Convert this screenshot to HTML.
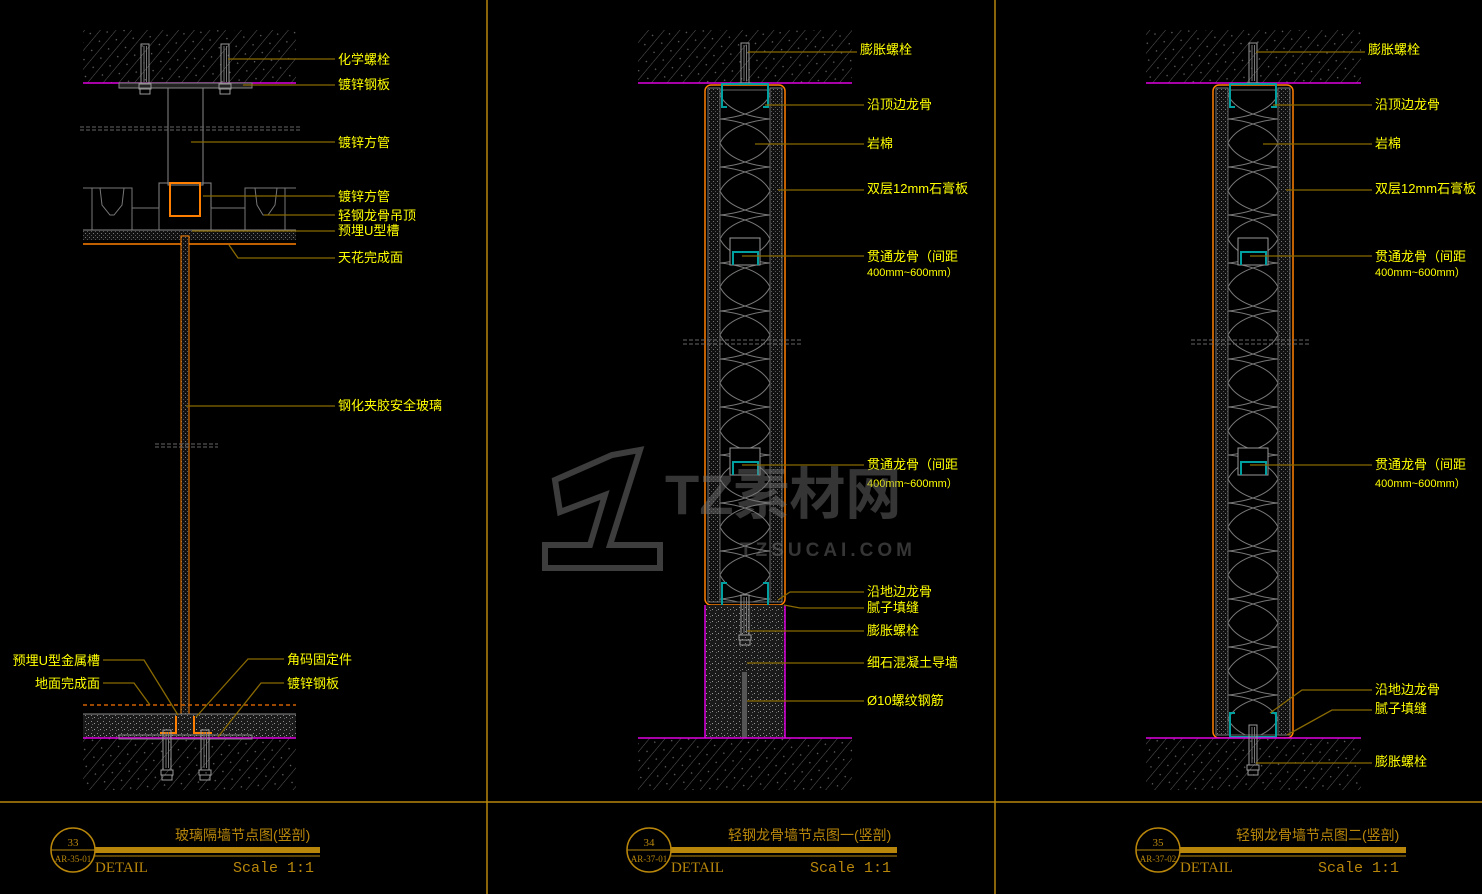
<!DOCTYPE html>
<html><head><meta charset="utf-8"><style>
html,body{margin:0;padding:0;background:#000;}
svg{display:block;}
text{font-family:"Liberation Sans","Noto Sans CJK SC",sans-serif;}
.l{fill:#ffff00;font-size:13px;}
.ld{stroke:#8a6a00;stroke-width:1.3;fill:none;}
.tt{fill:#b8860b;}
</style></head><body>
<svg width="1482" height="894" viewBox="0 0 1482 894" xmlns="http://www.w3.org/2000/svg">
<defs>
<pattern id="hatch" width="12" height="12" patternUnits="userSpaceOnUse" patternTransform="rotate(40)">
<rect width="12" height="12" fill="#000"/>
<line x1="0" y1="0" x2="0" y2="12" stroke="#5a5a5a" stroke-width="1"/>
<rect x="6" y="3" width="1.3" height="1.3" fill="#666"/>
</pattern>
<pattern id="dots" width="4" height="4" patternUnits="userSpaceOnUse">
<rect width="4" height="4" fill="#111"/><rect x="1" y="1" width="1" height="1" fill="#777"/><rect x="3" y="3" width="1" height="1" fill="#555"/>
</pattern>
<pattern id="conc" width="6" height="6" patternUnits="userSpaceOnUse">
<rect width="6" height="6" fill="#1a1a1a"/><rect x="1" y="1" width="1" height="1" fill="#888"/><rect x="4" y="3" width="1" height="1" fill="#999"/><rect x="2" y="4" width="1" height="1" fill="#666"/>
</pattern>
<pattern id="wool" width="50" height="48" patternUnits="userSpaceOnUse" x="720" y="95">
<path d="M0 0 Q10 20 50 24 Q10 28 0 48 M50 0 Q40 20 0 24 Q40 28 50 48" stroke="#777" stroke-width="1" fill="none"/>
</pattern>
<pattern id="wool2" width="50" height="48" patternUnits="userSpaceOnUse" x="1228" y="95">
<path d="M0 0 Q10 20 50 24 Q10 28 0 48 M50 0 Q40 20 0 24 Q40 28 50 48" stroke="#777" stroke-width="1" fill="none"/>
</pattern>
<g id="bolt">
<rect x="-4" y="0" width="8" height="40" fill="none" stroke="#999"/>
<line x1="-1" y1="2" x2="-1" y2="38" stroke="#777"/><line x1="1.5" y1="2" x2="1.5" y2="38" stroke="#777"/>
<rect x="-6" y="40" width="12" height="5" fill="none" stroke="#999"/><rect x="-5" y="45" width="10" height="5" fill="none" stroke="#999"/>
</g>
</defs>
<rect width="1482" height="894" fill="#000"/>

<line x1="487" y1="0" x2="487" y2="894" stroke="#b8860b" stroke-width="1.5"/>
<line x1="995" y1="0" x2="995" y2="894" stroke="#b8860b" stroke-width="1.5"/>
<line x1="0" y1="802" x2="1482" y2="802" stroke="#b8860b" stroke-width="1.5"/>

<!-- ===== PANEL 1 ===== -->
<rect x="83" y="30" width="213" height="53" fill="url(#hatch)"/>
<line x1="83" y1="83" x2="296" y2="83" stroke="#e000e0" stroke-width="1.5"/>
<rect x="119" y="83" width="133" height="5" fill="#222" stroke="#888"/>
<use href="#bolt" x="145" y="44"/><use href="#bolt" x="225" y="44"/>
<rect x="168" y="88" width="35" height="97" fill="none" stroke="#888"/>
<line x1="80" y1="127" x2="300" y2="127" stroke="#666" stroke-dasharray="4,2"/>
<line x1="80" y1="130" x2="300" y2="130" stroke="#666" stroke-dasharray="4,2"/>
<rect x="159" y="183" width="52" height="55" fill="none" stroke="#888"/>
<rect x="170" y="183" width="30" height="33" fill="none" stroke="#ff8000" stroke-width="2"/>
<path d="M83 188 L92 188 L92 233 M132 233 L132 188 L92 188 M100 188 L102 205 L110 215 L114 215 L122 205 L124 188" fill="none" stroke="#777"/>
<path d="M296 188 L285 188 L285 233 M245 233 L245 188 L285 188 M255 188 L257 205 L263 215 L268 215 L275 205 L277 188" fill="none" stroke="#777"/>
<rect x="132" y="208" width="27" height="22" fill="none" stroke="#777"/><rect x="211" y="208" width="34" height="22" fill="none" stroke="#777"/>
<rect x="83" y="230" width="213" height="10" fill="url(#dots)"/>
<line x1="83" y1="230" x2="296" y2="230" stroke="#888"/>
<line x1="83" y1="244" x2="296" y2="244" stroke="#ff8000" stroke-width="1.5"/>
<rect x="181" y="236" width="8" height="478" fill="url(#dots)" stroke="#ff8000" stroke-width="1"/>
<line x1="155" y1="444" x2="218" y2="444" stroke="#666" stroke-dasharray="4,2"/>
<line x1="155" y1="447" x2="218" y2="447" stroke="#666" stroke-dasharray="4,2"/>
<line x1="83" y1="705" x2="296" y2="705" stroke="#d06000" stroke-dasharray="4,3" stroke-width="1.5"/>
<rect x="83" y="714" width="213" height="24" fill="url(#conc)"/>
<line x1="83" y1="714" x2="296" y2="714" stroke="#888"/>
<rect x="83" y="738" width="213" height="52" fill="url(#hatch)"/>
<line x1="83" y1="738" x2="296" y2="738" stroke="#e000e0" stroke-width="1.5"/>
<rect x="119" y="735" width="133" height="4" fill="none" stroke="#888"/>
<path d="M160 733 L176 733 L176 716 M194 716 L194 733 L212 733" stroke="#ff8000" stroke-width="2" fill="none"/>
<use href="#bolt" x="167" y="730"/>
<use href="#bolt" x="205" y="730"/>

<g class="ld">
<polyline points="228,59 335,59"/><polyline points="243,85 335,85"/><polyline points="191,142 335,142"/>
<polyline points="203,196 335,196"/><polyline points="264,215 335,215"/><polyline points="192,231 335,231"/>
<polyline points="229,245 238,258 335,258"/><polyline points="186,406 335,406"/>
<polyline points="103,660 144,660 178,715"/><polyline points="103,683 134,683 150,705"/>
<polyline points="284,659 248,659 196,717"/><polyline points="284,683 261,683 218,737"/>
</g>
<text class="l" x="338" y="64">化学螺栓</text>
<text class="l" x="338" y="89">镀锌钢板</text>
<text class="l" x="338" y="147">镀锌方管</text>
<text class="l" x="338" y="201">镀锌方管</text>
<text class="l" x="338" y="220">轻钢龙骨吊顶</text>
<text class="l" x="338" y="235">预埋U型槽</text>
<text class="l" x="338" y="262">天花完成面</text>
<text class="l" x="338" y="410">钢化夹胶安全玻璃</text>
<text class="l" x="100" y="665" text-anchor="end">预埋U型金属槽</text>
<text class="l" x="100" y="688" text-anchor="end">地面完成面</text>
<text class="l" x="287" y="664">角码固定件</text>
<text class="l" x="287" y="688">镀锌钢板</text>

<!-- ===== PANEL 2 ===== -->
<rect x="638" y="30" width="214" height="53" fill="url(#hatch)"/>
<line x1="638" y1="83" x2="852" y2="83" stroke="#e000e0" stroke-width="1.5"/>
<use href="#bolt" x="745" y="43"/>
<rect x="705" y="85" width="80" height="520" rx="6" fill="#000" stroke="#ff8000" stroke-width="1.5"/>
<rect x="708" y="88" width="12" height="514" fill="url(#dots)" stroke="#777"/>
<rect x="770" y="88" width="12" height="514" fill="url(#dots)" stroke="#777"/>
<rect x="720" y="90" width="50" height="512" fill="url(#wool)" stroke="#666"/>
<path d="M727 107 L722 107 L722 84 L768 84 L768 107 L763 107" stroke="#00a0a0" stroke-width="2" fill="none"/>
<path d="M727 583 L722 583 L722 606 L768 606 L768 583 L763 583" stroke="#00a0a0" stroke-width="2" fill="none"/>
<rect x="730" y="238" width="30" height="27" fill="#000" stroke="#999"/><path d="M733 265 L733 252 L758 252 L758 265" stroke="#00a0a0" stroke-width="2" fill="none"/>
<rect x="730" y="448" width="30" height="27" fill="#000" stroke="#999"/><path d="M733 475 L733 462 L758 462 L758 475" stroke="#00a0a0" stroke-width="2" fill="none"/>
<line x1="683" y1="340" x2="803" y2="340" stroke="#666" stroke-dasharray="4,2"/><line x1="683" y1="344" x2="803" y2="344" stroke="#666" stroke-dasharray="4,2"/>
<rect x="705" y="605" width="80" height="133" fill="url(#conc)"/>
<line x1="705" y1="605" x2="705" y2="738" stroke="#e000e0" stroke-width="1.5"/>
<line x1="785" y1="605" x2="785" y2="738" stroke="#e000e0" stroke-width="1.5"/>
<use href="#bolt" x="745" y="595"/>
<rect x="742" y="672" width="5" height="100" fill="#555"/>
<rect x="638" y="738" width="214" height="52" fill="url(#hatch)"/>
<line x1="638" y1="738" x2="852" y2="738" stroke="#e000e0" stroke-width="1.5"/>
<g class="ld">
<polyline points="748,52 857,52"/><polyline points="765,105 864,105"/><polyline points="755,144 864,144"/>
<polyline points="778,190 864,190"/><polyline points="742,256 864,256"/><polyline points="742,465 864,465"/>
<polyline points="778,600 790,592 864,592"/><polyline points="784,605 800,608 864,608"/>
<polyline points="747,631 864,631"/><polyline points="747,663 864,663"/><polyline points="747,701 864,701"/>
</g>
<text class="l" x="860" y="54">膨胀螺栓</text>
<text class="l" x="867" y="109">沿顶边龙骨</text>
<text class="l" x="867" y="148">岩棉</text>
<text class="l" x="867" y="193">双层12mm石膏板</text>
<text class="l" x="867" y="261">贯通龙骨（间距</text>
<text class="l" x="867" y="276" style="font-size:11px">400mm~600mm）</text>
<text class="l" x="867" y="469">贯通龙骨（间距</text>
<text class="l" x="867" y="487" style="font-size:11px">400mm~600mm）</text>
<text class="l" x="867" y="596">沿地边龙骨</text>
<text class="l" x="867" y="612">腻子填缝</text>
<text class="l" x="867" y="635">膨胀螺栓</text>
<text class="l" x="867" y="667">细石混凝土导墙</text>
<text class="l" x="867" y="705">Ø10螺纹钢筋</text>

<g opacity="0.45">
<path d="M555 480 L612 455 L640 450 L610 545 L660 545 L660 568 L545 568 L545 545 L590 545 L605 495 L560 512 Z" fill="none" stroke="#888" stroke-width="6"/>
<text x="665" y="514" style="font-size:56px;font-weight:bold" fill="#777">TZ素材网</text>
<text x="740" y="556" style="font-size:19px;font-weight:bold;letter-spacing:4px" fill="#777">TZSUCAI.COM</text>
</g>

<!-- ===== PANEL 3 ===== -->
<rect x="1146" y="30" width="215" height="53" fill="url(#hatch)"/>
<line x1="1146" y1="83" x2="1361" y2="83" stroke="#e000e0" stroke-width="1.5"/>
<use href="#bolt" x="1253" y="43"/>
<rect x="1213" y="85" width="80" height="653" rx="6" fill="#000" stroke="#ff8000" stroke-width="1.5"/>
<rect x="1216" y="88" width="12" height="647" fill="url(#dots)" stroke="#777"/>
<rect x="1278" y="88" width="12" height="647" fill="url(#dots)" stroke="#777"/>
<rect x="1228" y="90" width="50" height="645" fill="url(#wool2)" stroke="#666"/>
<path d="M1235 107 L1230 107 L1230 84 L1276 84 L1276 107 L1271 107" stroke="#00a0a0" stroke-width="2" fill="none"/>
<path d="M1235 713 L1230 713 L1230 737 L1276 737 L1276 713 L1271 713" stroke="#00a0a0" stroke-width="2" fill="none"/>
<rect x="1238" y="238" width="30" height="27" fill="#000" stroke="#999"/><path d="M1241 265 L1241 252 L1266 252 L1266 265" stroke="#00a0a0" stroke-width="2" fill="none"/>
<rect x="1238" y="448" width="30" height="27" fill="#000" stroke="#999"/><path d="M1241 475 L1241 462 L1266 462 L1266 475" stroke="#00a0a0" stroke-width="2" fill="none"/>
<line x1="1191" y1="340" x2="1311" y2="340" stroke="#666" stroke-dasharray="4,2"/><line x1="1191" y1="344" x2="1311" y2="344" stroke="#666" stroke-dasharray="4,2"/>
<rect x="1146" y="738" width="215" height="52" fill="url(#hatch)"/>
<line x1="1146" y1="738" x2="1361" y2="738" stroke="#e000e0" stroke-width="1.5"/>
<use href="#bolt" x="1253" y="725"/>
<g class="ld">
<polyline points="1256,52 1365,52"/><polyline points="1273,105 1372,105"/><polyline points="1263,144 1372,144"/>
<polyline points="1286,190 1372,190"/><polyline points="1250,256 1372,256"/><polyline points="1250,465 1372,465"/>
<polyline points="1270,713 1302,690 1372,690"/><polyline points="1287,735 1332,710 1372,710"/>
<polyline points="1256,763 1372,763"/>
</g>
<text class="l" x="1368" y="54">膨胀螺栓</text>
<text class="l" x="1375" y="109">沿顶边龙骨</text>
<text class="l" x="1375" y="148">岩棉</text>
<text class="l" x="1375" y="193">双层12mm石膏板</text>
<text class="l" x="1375" y="261">贯通龙骨（间距</text>
<text class="l" x="1375" y="276" style="font-size:11px">400mm~600mm）</text>
<text class="l" x="1375" y="469">贯通龙骨（间距</text>
<text class="l" x="1375" y="487" style="font-size:11px">400mm~600mm）</text>
<text class="l" x="1375" y="694">沿地边龙骨</text>
<text class="l" x="1375" y="713">腻子填缝</text>
<text class="l" x="1375" y="766">膨胀螺栓</text>

<!-- ===== title blocks ===== -->
<g>
<circle cx="73" cy="850" r="22" fill="none" stroke="#b8860b" stroke-width="1.5"/>
<line x1="51" y1="850" x2="95" y2="850" stroke="#b8860b"/>
<rect x="95" y="847" width="225" height="6" fill="#b8860b"/><line x1="95" y1="856" x2="320" y2="856" stroke="#b8860b"/>
<text class="tt" x="73" y="846" text-anchor="middle" style="font-size:11px;font-family:'Liberation Serif',serif">33</text>
<text class="tt" x="73" y="862" text-anchor="middle" style="font-size:9px;font-family:'Liberation Serif',serif">AR-35-01</text>
<text class="tt" x="175" y="840" style="font-size:14px">玻璃隔墙节点图(竖剖)</text>
<text class="tt" x="95" y="872" style="font-size:15px;font-family:'Liberation Serif',serif">DETAIL</text>
<text class="tt" x="233" y="872" style="font-size:15px;font-family:'Liberation Mono',monospace">Scale 1:1</text>
</g>
<g>
<circle cx="649" cy="850" r="22" fill="none" stroke="#b8860b" stroke-width="1.5"/>
<line x1="627" y1="850" x2="671" y2="850" stroke="#b8860b"/>
<rect x="671" y="847" width="226" height="6" fill="#b8860b"/><line x1="671" y1="856" x2="897" y2="856" stroke="#b8860b"/>
<text class="tt" x="649" y="846" text-anchor="middle" style="font-size:11px;font-family:'Liberation Serif',serif">34</text>
<text class="tt" x="649" y="862" text-anchor="middle" style="font-size:9px;font-family:'Liberation Serif',serif">AR-37-01</text>
<text class="tt" x="728" y="840" style="font-size:14px">轻钢龙骨墙节点图一(竖剖)</text>
<text class="tt" x="671" y="872" style="font-size:15px;font-family:'Liberation Serif',serif">DETAIL</text>
<text class="tt" x="810" y="872" style="font-size:15px;font-family:'Liberation Mono',monospace">Scale 1:1</text>
</g>
<g>
<circle cx="1158" cy="850" r="22" fill="none" stroke="#b8860b" stroke-width="1.5"/>
<line x1="1136" y1="850" x2="1180" y2="850" stroke="#b8860b"/>
<rect x="1180" y="847" width="226" height="6" fill="#b8860b"/><line x1="1180" y1="856" x2="1406" y2="856" stroke="#b8860b"/>
<text class="tt" x="1158" y="846" text-anchor="middle" style="font-size:11px;font-family:'Liberation Serif',serif">35</text>
<text class="tt" x="1158" y="862" text-anchor="middle" style="font-size:9px;font-family:'Liberation Serif',serif">AR-37-02</text>
<text class="tt" x="1236" y="840" style="font-size:14px">轻钢龙骨墙节点图二(竖剖)</text>
<text class="tt" x="1180" y="872" style="font-size:15px;font-family:'Liberation Serif',serif">DETAIL</text>
<text class="tt" x="1318" y="872" style="font-size:15px;font-family:'Liberation Mono',monospace">Scale 1:1</text>
</g>
</svg>
</body></html>
